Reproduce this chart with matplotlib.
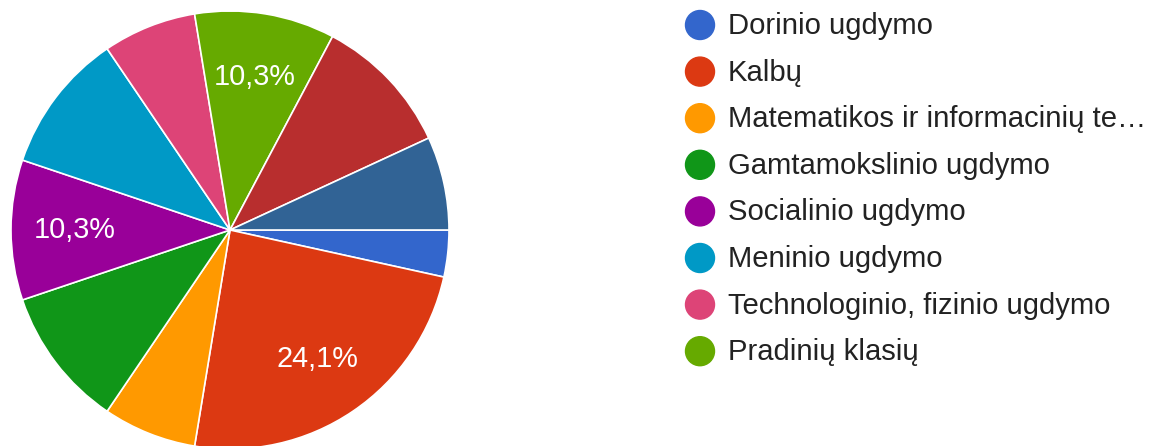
import numpy as np
import matplotlib.pyplot as plt
from matplotlib.patches import Circle

plt.rcParams['font.family'] = ['Liberation Sans', 'DejaVu Sans']

# responses per category (29 in total), clockwise from 3 o'clock
counts = [1, 7, 2, 3, 3, 3, 2, 3, 3, 2]
colors = ['#3366cc', '#dc3912', '#ff9900', '#109618', '#990099',
          '#0099c6', '#dd4477', '#66aa00', '#b82e2e', '#316395']
# the legend only shows the first 8 entries
legend_labels = ['Dorinio ugdymo', 'Kalbų', 'Matematikos ir informacinių te…',
                 'Gamtamokslinio ugdymo', 'Socialinio ugdymo', 'Meninio ugdymo',
                 'Technologinio, fizinio ugdymo', 'Pradinių klasių']
# slices that get a percentage label
labelled = [1, 4, 7]

W, H = 1152, 446
fig = plt.figure(figsize=(W / 100, H / 100), dpi=100)

# pie: centre at (230, 230) px from top-left, radius 219 px
cx, cy, r = 230, 230, 219
ax = fig.add_axes([(cx - r) / W, (H - cy - r) / H, 2 * r / W, 2 * r / H])
total = sum(counts)
wedges, _ = ax.pie(counts, colors=colors, startangle=0, counterclock=False,
                   radius=1.0, wedgeprops=dict(edgecolor='white', linewidth=1.2))
ax.set_xlim(-1, 1)
ax.set_ylim(-1, 1)
ax.set_aspect('equal')
ax.axis('off')

for i in labelled:
    w = wedges[i]
    mid = np.deg2rad((w.theta1 + w.theta2) / 2)
    pct = f'{counts[i] / total * 100:.1f}%'.replace('.', ',')
    ax.text(0.71 * np.cos(mid), 0.71 * np.sin(mid), pct, color='white',
            fontsize=20.8, ha='center', va='center')

# legend, drawn in pixel coordinates
lax = fig.add_axes([0, 0, 1, 1])
lax.set_xlim(0, W)
lax.set_ylim(H, 0)
lax.axis('off')
for k, lab in enumerate(legend_labels):
    y = 25 + k * 46.6
    lax.add_patch(Circle((700, y), 14.5, color=colors[k]))
    lax.text(728, y + 1, lab, fontsize=21.1, color='#222222', va='center', ha='left')

fig.savefig('out.png', dpi=100)
